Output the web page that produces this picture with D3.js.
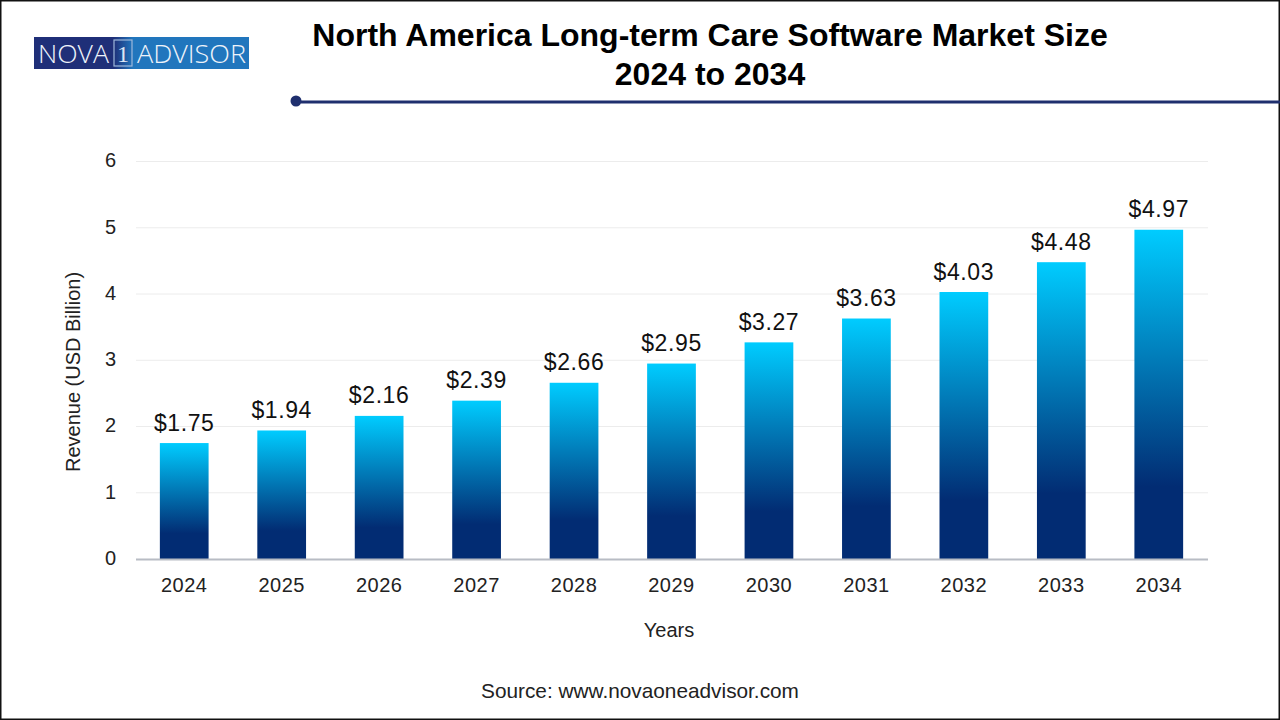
<!DOCTYPE html>
<html>
<head>
<meta charset="utf-8">
<script src="https://cdn.jsdelivr.net/npm/d3@7"></script>
<style>
html, body { margin: 0; padding: 0; background: #fff; }
svg { display: block; font-family: "Liberation Sans", Arial, sans-serif; }
</style>
</head>
<body>
<div id="chart"></div>
<script>
const years = ["2024", "2025", "2026", "2027", "2028", "2029", "2030", "2031", "2032", "2033", "2034"];
const revenue = [1.75, 1.94, 2.16, 2.39, 2.66, 2.95, 3.27, 3.63, 4.03, 4.48, 4.97];
const yTicks = [0, 1, 2, 3, 4, 5, 6];
const titleLines = ["North America Long-term Care Software Market Size", "2024 to 2034"];

const width = 1280, height = 720;
const svg = d3.select("#chart").append("svg")
    .attr("width", width)
    .attr("height", height);

// page frame
svg.append("rect")
    .attr("x", 0.75).attr("y", 0.75)
    .attr("width", width - 1.5).attr("height", height - 1.5)
    .attr("fill", "#fff").attr("stroke", "#111").attr("stroke-width", 1.5);

const defs = svg.append("defs");
const grad = defs.append("linearGradient")
    .attr("id", "barFill")
    .attr("x1", 0).attr("y1", 0).attr("x2", 0).attr("y2", 1);
grad.append("stop").attr("offset", "0%").attr("stop-color", "#00ccff");
grad.append("stop").attr("offset", "78%").attr("stop-color", "#022c73");
grad.append("stop").attr("offset", "100%").attr("stop-color", "#022c73");

const logoGrad = defs.append("linearGradient").attr("id", "logoFill");
logoGrad.append("stop").attr("offset", "0%").attr("stop-color", "#1f2f78");
logoGrad.append("stop").attr("offset", "37%").attr("stop-color", "#1f2f78");
logoGrad.append("stop").attr("offset", "46%").attr("stop-color", "#2176bd");
logoGrad.append("stop").attr("offset", "100%").attr("stop-color", "#2176bd");

// logo
const logo = svg.append("g");
logo.append("rect").attr("x", 34).attr("y", 37).attr("width", 215).attr("height", 32).attr("fill", "url(#logoFill)");
logo.append("rect").attr("x", 114).attr("y", 40).attr("width", 18).attr("height", 26)
    .attr("fill", "none").attr("stroke", "#9db8da").attr("stroke-width", 1.2);
logo.append("text").attr("x", 38).attr("y", 62.5).attr("font-size", 25).attr("fill", "#eef3fa")
    .attr("font-family", "Open Sans").attr("font-weight", 300)
    .attr("textLength", 71).attr("lengthAdjust", "spacingAndGlyphs").text("NOVA");
logo.append("text").attr("x", 123).attr("y", 62).attr("text-anchor", "middle").attr("font-size", 24)
    .attr("fill", "#dbe6f3").attr("font-family", "Liberation Serif").text("1");
logo.append("text").attr("x", 137).attr("y", 62.5).attr("font-size", 25).attr("fill", "#eef3fa")
    .attr("font-family", "Open Sans").attr("font-weight", 300)
    .attr("textLength", 109).attr("lengthAdjust", "spacingAndGlyphs").text("ADVISOR");

// title
svg.append("g").selectAll("text")
    .data(titleLines)
    .join("text")
    .attr("x", 710)
    .attr("y", (d, i) => 46 + i * 39)
    .attr("text-anchor", "middle")
    .attr("font-size", 32)
    .attr("font-weight", "bold")
    .attr("fill", "#000")
    .text(d => d);

// title rule
svg.append("circle").attr("cx", 296).attr("cy", 101).attr("r", 5.5).attr("fill", "#1f2f6e");
svg.append("line").attr("x1", 301).attr("x2", 1280).attr("y1", 102).attr("y2", 102)
    .attr("stroke", "#1f2f6e").attr("stroke-width", 3);

const x = d3.scaleBand().domain(years).range([136, 1208]).paddingInner(0.5).paddingOuter(0.25);
const y = d3.scaleLinear().domain([0, 6]).range([559, 161.5]);

// gridlines
svg.append("g").selectAll("line")
    .data(yTicks.slice(1))
    .join("line")
    .attr("x1", 136).attr("x2", 1208)
    .attr("y1", d => y(d)).attr("y2", d => y(d))
    .attr("stroke", "#ececec").attr("stroke-width", 1);

// bars
svg.append("g").selectAll("rect")
    .data(revenue)
    .join("rect")
    .attr("x", (d, i) => x(years[i]) - 0.5)
    .attr("y", d => y(d))
    .attr("width", x.bandwidth())
    .attr("height", d => y(0) - y(d))
    .attr("fill", "url(#barFill)");

// value labels
svg.append("g").selectAll("text")
    .data(revenue)
    .join("text")
    .attr("x", (d, i) => x(years[i]) + x.bandwidth() / 2 - 0.5)
    .attr("y", d => y(d) - 12.5)
    .attr("text-anchor", "middle")
    .attr("font-size", 23)
    .attr("letter-spacing", 0.6)
    .attr("fill", "#111")
    .text(d => "$" + d.toFixed(2));

// axes
const xAxis = svg.append("g")
    .attr("transform", `translate(-0.5,${y(0)})`)
    .call(d3.axisBottom(x).tickSize(0).tickPadding(19));
xAxis.select(".domain").attr("stroke", "#b8bcc4").attr("stroke-width", 2);
xAxis.selectAll("text").attr("font-size", 20).attr("letter-spacing", 0.5).attr("fill", "#222").attr("font-family", "Liberation Sans");

const yAxis = svg.append("g")
    .attr("transform", "translate(136,-1)")
    .call(d3.axisLeft(y).tickValues(yTicks).tickFormat(d3.format("d")).tickSize(0).tickPadding(20));
yAxis.select(".domain").remove();
yAxis.selectAll("text").attr("font-size", 20).attr("fill", "#222").attr("font-family", "Liberation Sans");

// axis titles
svg.append("text")
    .attr("x", 669).attr("y", 637)
    .attr("text-anchor", "middle").attr("font-size", 20).attr("fill", "#222")
    .text("Years");
svg.append("text")
    .attr("transform", "translate(80,372) rotate(-90)")
    .attr("text-anchor", "middle").attr("font-size", 20).attr("fill", "#222")
    .text("Revenue (USD Billion)");

// source
svg.append("text")
    .attr("x", 640).attr("y", 698)
    .attr("text-anchor", "middle").attr("font-size", 20.8).attr("fill", "#222")
    .text("Source: www.novaoneadvisor.com");
</script>
</body>
</html>
